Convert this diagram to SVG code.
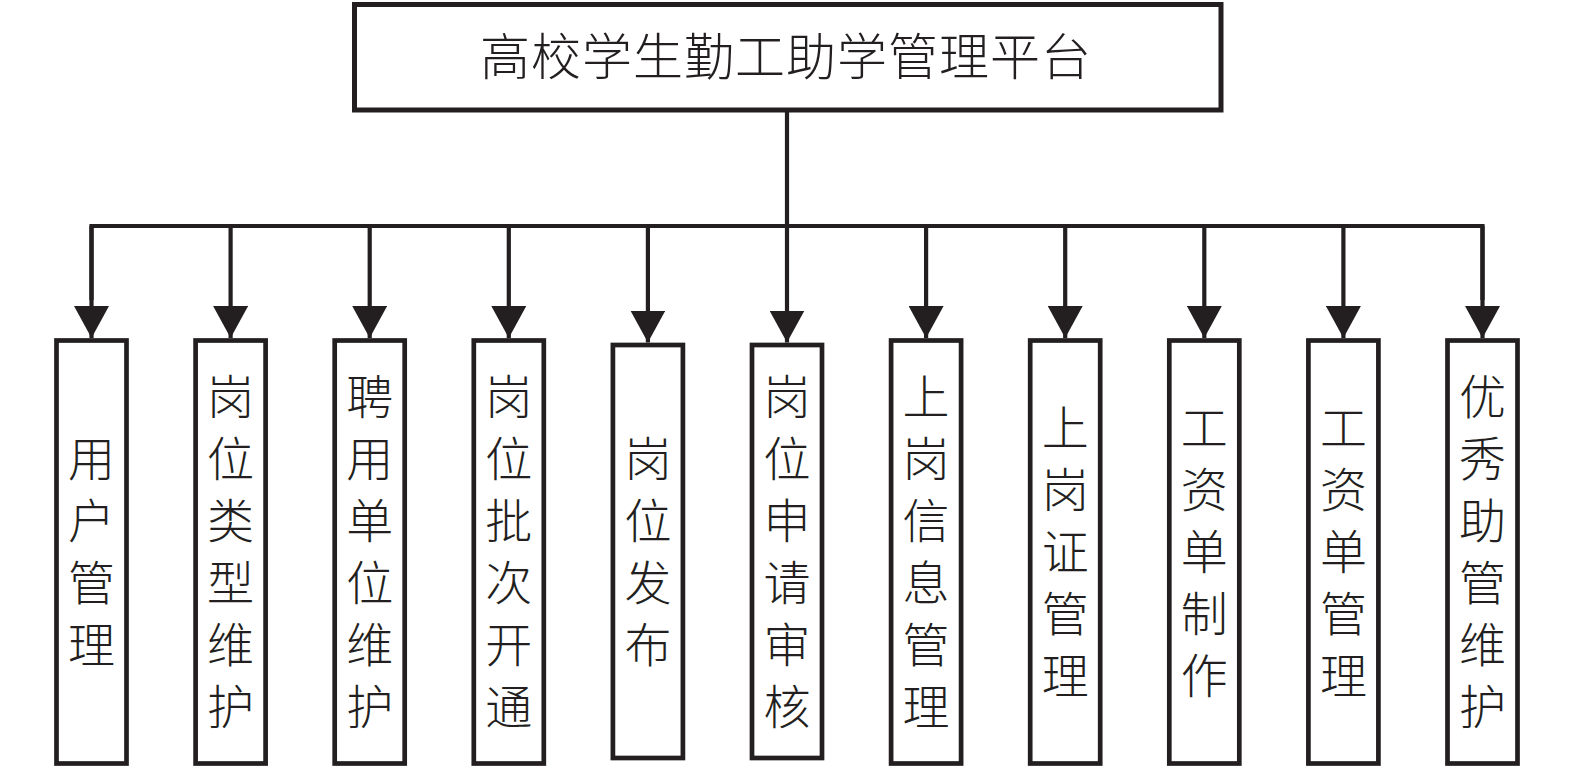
<svg xmlns="http://www.w3.org/2000/svg" width="1575" height="768" viewBox="0 0 1575 768">
<style>
.box{fill:#fff;stroke:#231f20;stroke-width:4.7}
.top{fill:#fff;stroke:#231f20;stroke-width:5}
.ln{fill:none;stroke:#231f20;stroke-width:4.2;stroke-linejoin:miter}
.t{font-family:"Noto Sans CJK SC","Noto Sans CJK JP",sans-serif;font-size:47px;fill:#231f20;text-anchor:middle;font-weight:300;writing-mode:vertical-rl;letter-spacing:15px}
.tt{font-family:"Noto Sans CJK SC","Noto Sans CJK JP",sans-serif;font-size:50px;fill:#231f20;text-anchor:middle;letter-spacing:1px;font-weight:300}
</style>
<defs>
<marker id="ah" markerUnits="userSpaceOnUse" viewBox="0 0 32 35" markerWidth="32" markerHeight="35" refX="32" refY="17.5" orient="auto">
<path d="M0,0 L32,17.5 L0,35 Z" fill="#231f20"/>
</marker>
</defs>
<g id="connectors">
<path class="ln" d="M787,110 V226"/>
<path class="ln" d="M91.5,300 V226 H1482.5 V300"/>
<line class="ln" x1="91.5" y1="226" x2="91.5" y2="338" marker-end="url(#ah)"/>
<line class="ln" x1="230.6" y1="226" x2="230.6" y2="338" marker-end="url(#ah)"/>
<line class="ln" x1="369.7" y1="226" x2="369.7" y2="338" marker-end="url(#ah)"/>
<line class="ln" x1="508.8" y1="226" x2="508.8" y2="338" marker-end="url(#ah)"/>
<line class="ln" x1="647.9" y1="226" x2="647.9" y2="342.5" marker-end="url(#ah)"/>
<line class="ln" x1="787" y1="226" x2="787" y2="342.5" marker-end="url(#ah)"/>
<line class="ln" x1="926.1" y1="226" x2="926.1" y2="338" marker-end="url(#ah)"/>
<line class="ln" x1="1065.2" y1="226" x2="1065.2" y2="338" marker-end="url(#ah)"/>
<line class="ln" x1="1204.3" y1="226" x2="1204.3" y2="338" marker-end="url(#ah)"/>
<line class="ln" x1="1343.4" y1="226" x2="1343.4" y2="338" marker-end="url(#ah)"/>
<line class="ln" x1="1482.5" y1="226" x2="1482.5" y2="338" marker-end="url(#ah)"/>
</g>
<g id="root">
<rect class="top" x="354.5" y="4.5" width="866.5" height="105.5"/>
<text class="tt" x="786" y="74.5">高校学生勤工助学管理平台</text>
</g>
<g id="n1">
<rect class="box" x="56.5" y="340.5" width="70" height="423"/>
<text class="t" x="91.5" y="559">用户管理</text>
</g>
<g id="n2">
<rect class="box" x="195.6" y="340.5" width="70" height="423"/>
<text class="t" x="230.6" y="559">岗位类型维护</text>
</g>
<g id="n3">
<rect class="box" x="334.7" y="340.5" width="70" height="423"/>
<text class="t" x="369.7" y="559">聘用单位维护</text>
</g>
<g id="n4">
<rect class="box" x="473.8" y="340.5" width="70" height="423"/>
<text class="t" x="508.8" y="559">岗位批次开通</text>
</g>
<g id="n5">
<rect class="box" x="612.9" y="345" width="70" height="413"/>
<text class="t" x="647.9" y="559">岗位发布</text>
</g>
<g id="n6">
<rect class="box" x="752" y="345" width="70" height="413"/>
<text class="t" x="787" y="559">岗位申请审核</text>
</g>
<g id="n7">
<rect class="box" x="891.1" y="340.5" width="70" height="423"/>
<text class="t" x="926.1" y="559">上岗信息管理</text>
</g>
<g id="n8">
<rect class="box" x="1030.2" y="340.5" width="70" height="423"/>
<text class="t" x="1065.2" y="559">上岗证管理</text>
</g>
<g id="n9">
<rect class="box" x="1169.3" y="340.5" width="70" height="423"/>
<text class="t" x="1204.3" y="559">工资单制作</text>
</g>
<g id="n10">
<rect class="box" x="1308.4" y="340.5" width="70" height="423"/>
<text class="t" x="1343.4" y="559">工资单管理</text>
</g>
<g id="n11">
<rect class="box" x="1447.5" y="340.5" width="70" height="423"/>
<text class="t" x="1482.5" y="559">优秀助管维护</text>
</g>
</svg>
